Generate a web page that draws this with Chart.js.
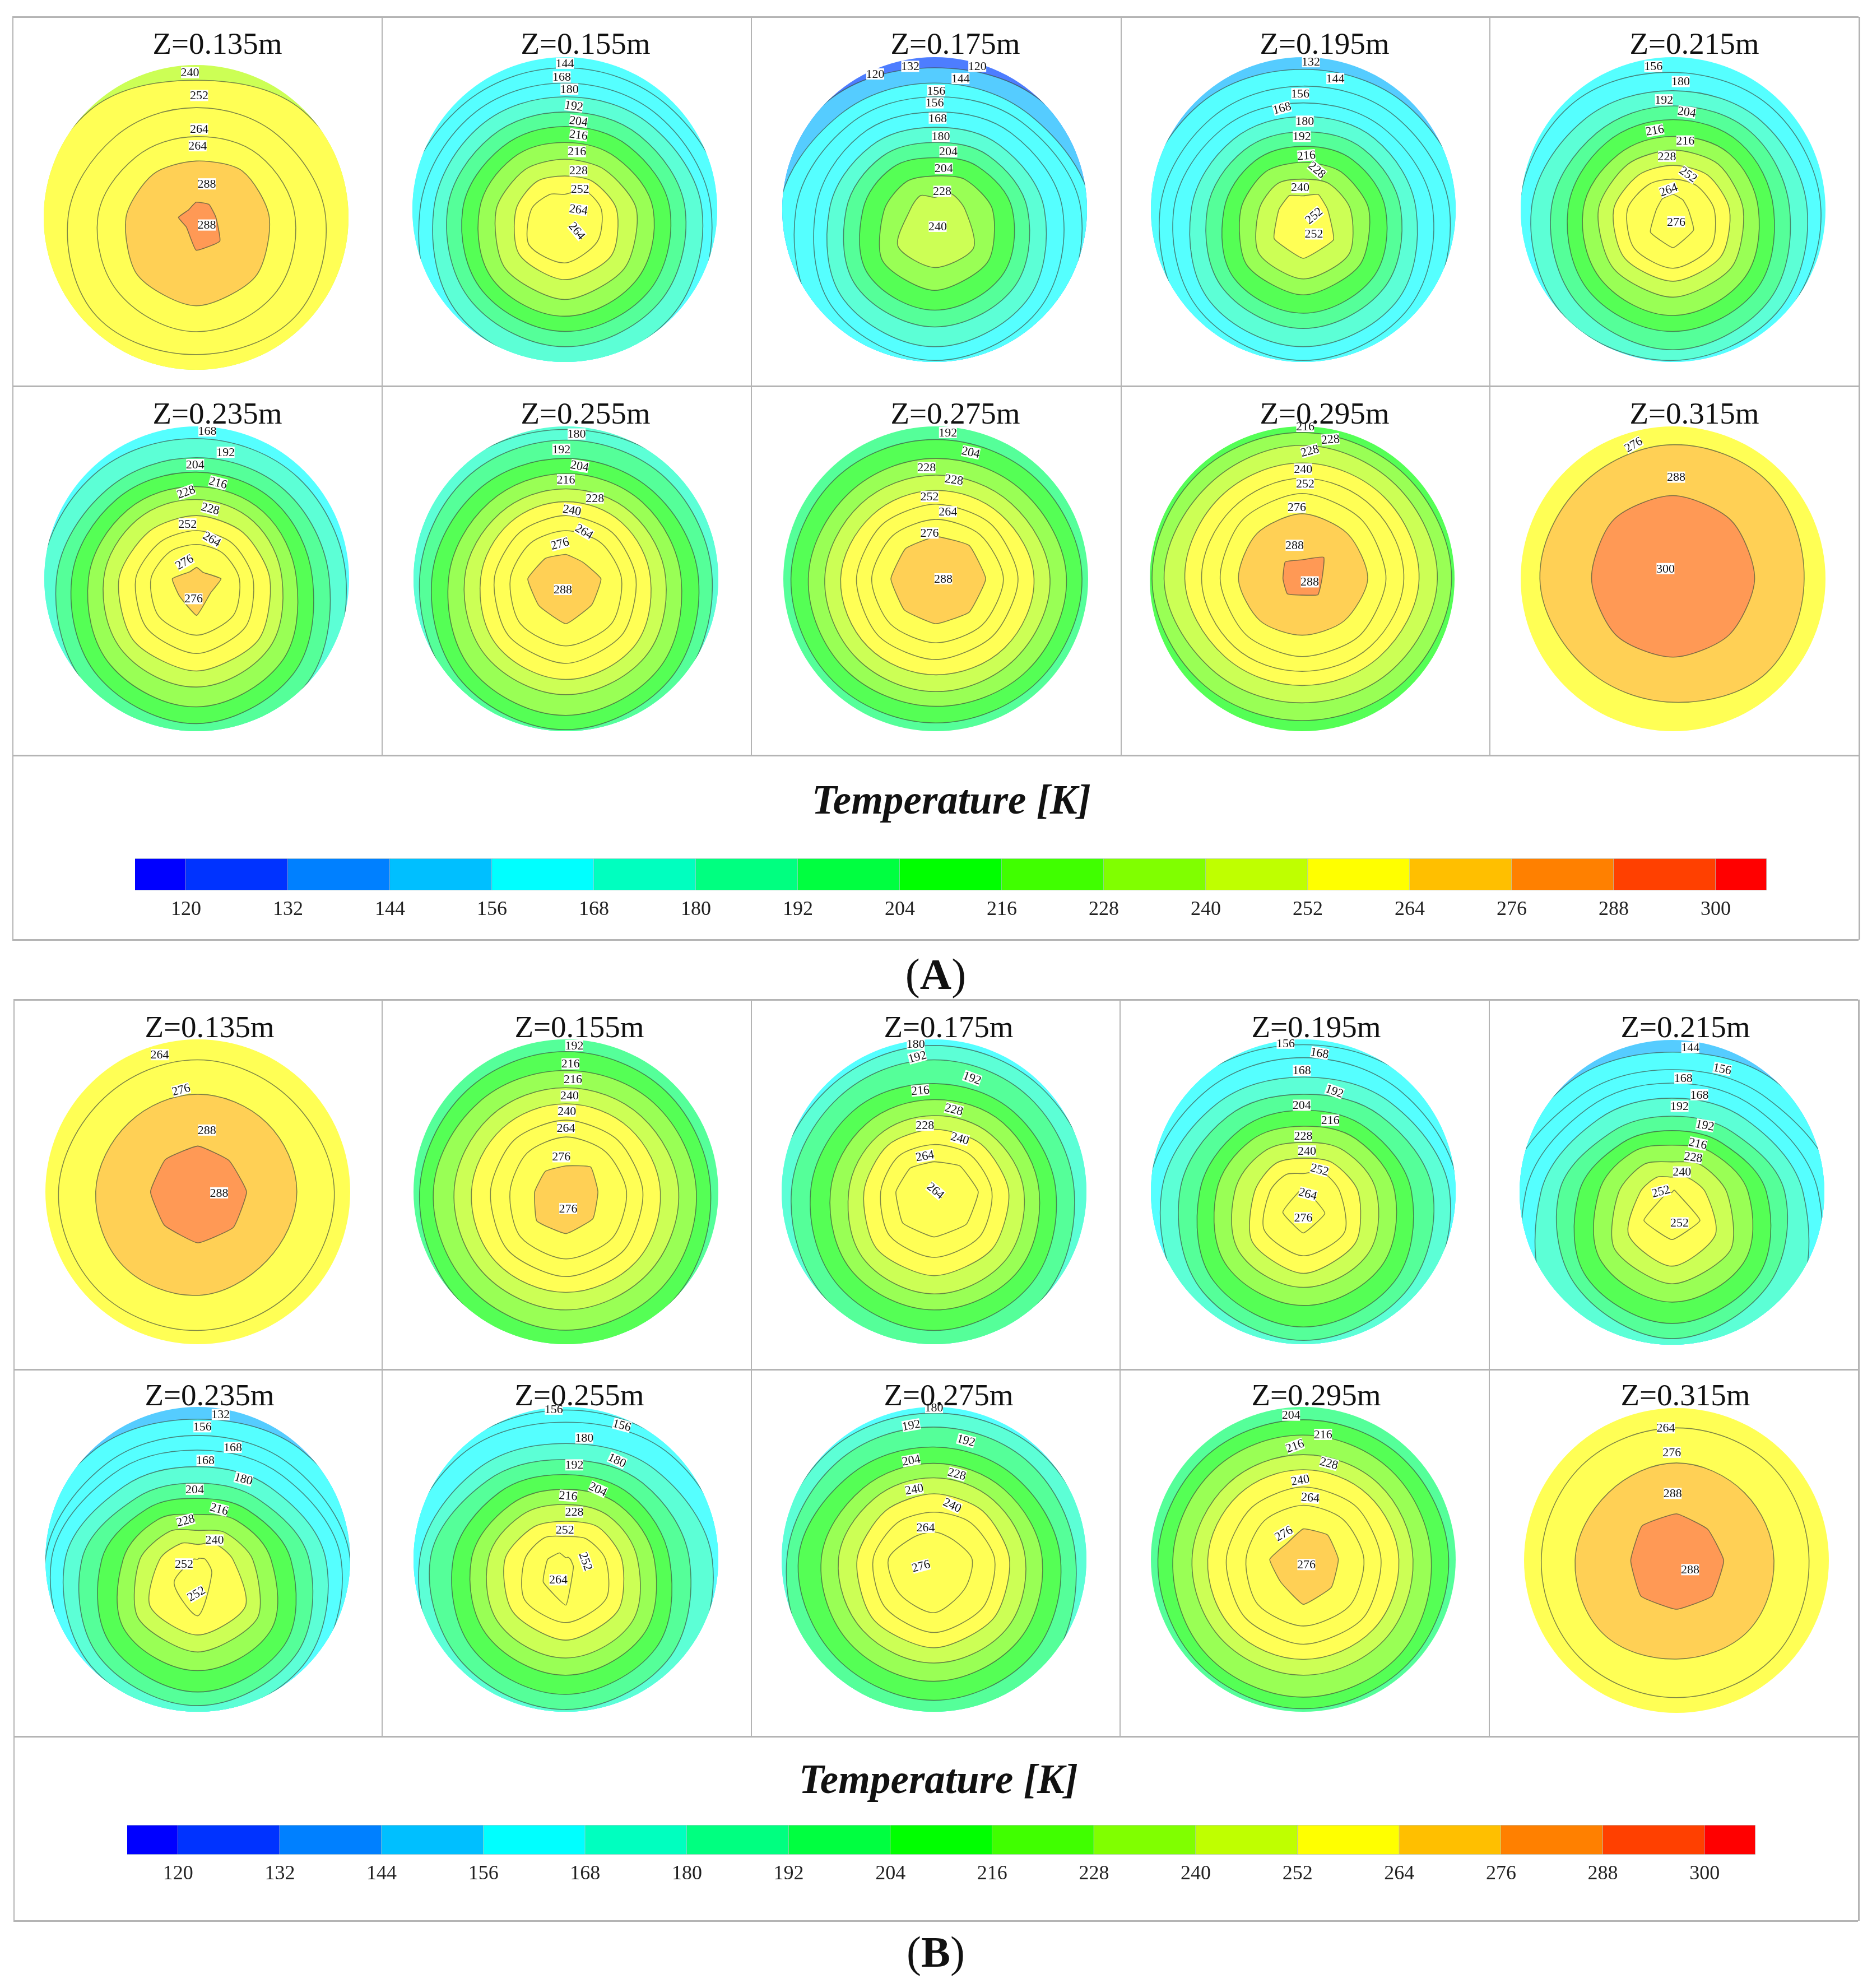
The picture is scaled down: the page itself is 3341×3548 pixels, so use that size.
<!DOCTYPE html>
<html>
<head>
<meta charset="utf-8">
<title>Temperature contours</title>
<script src="https://cdn.jsdelivr.net/npm/chart.js@4/dist/chart.umd.min.js"></script>
<style>
  html, body { margin: 0; padding: 0; background: #fff; }
  #page { position: relative; width: 3341px; height: 3548px; overflow: hidden; font-family: "Liberation Serif", serif; color: #111; }
  #page canvas { position: absolute; }
  .line { position: absolute; background: #b4b4b4; }
  .text { position: absolute; transform: translate(-50%, -50%); white-space: nowrap; z-index: 3; }
  .ztitle { font-size: 55px; }
  .legend { font-size: 73px; font-weight: bold; font-style: italic; }
  .tag { font-size: 78px; }
</style>
</head>
<body>
<div id="page"></div>
<script>
// Section titles
var zLabels = ['Z=0.135m', 'Z=0.155m', 'Z=0.175m', 'Z=0.195m', 'Z=0.215m', 'Z=0.235m', 'Z=0.255m', 'Z=0.275m', 'Z=0.295m', 'Z=0.315m'];

// Colour bar
var barEdges = [114, 120, 132, 144, 156, 168, 180, 192, 204, 216, 228, 240, 252, 264, 276, 288, 300, 306];
var barColors = ['#0000ff', '#0033ff', '#0080ff', '#00bfff', '#00ffff', '#00ffbf', '#00ff80', '#00ff40', '#00ff00', '#40ff00', '#80ff00', '#bfff00', '#ffff00', '#ffbf00', '#ff8000', '#ff4000', '#ff0000'];
var barTicks = [120, 132, 144, 156, 168, 180, 192, 204, 216, 228, 240, 252, 264, 276, 288, 300];

// Colours of the contour bands, by temperature
var bandTemps = [120, 144, 156, 168, 180, 204, 216, 240, 252, 276, 288];
var bandColors = ['#4d7dff', '#55ccff', '#55ffff', '#5cffd6', '#55ff99', '#55ff55', '#99ff55', '#ccff55', '#ffff55', '#ffd055', '#ff9955'];

// Spokes of each contour, clockwise from the top
var spokes = ['N', 'NE', 'E', 'SE', 'S', 'SW', 'W', 'NW'];

// Contours: [band, distance from the centre on each spoke], 100 = section edge
var ringsA135 = [[240,120,120,120,120,120,120,120,120],[252,90,99,106,120,120,120,106,99],[252,72,76,85,92,90,92,84,75],[252,53,58,65,72,75,71,64.5,56],[276,37,43,48,55,58,54,46,40],[288,10,12,13,22,21.5,9,11.6,7]];
var ringsA155 = [[156,120,120,120,120,120,120,120,120],[156,93,96,105,105,105,105,105,96],[156,83,87,96,107,115,109,95,87],[168,74,79,90,99,103,98,86,78],[180,64,69,79,87,90,86,77,68],[204,54.5,59,69,77,80,76,67,58],[216,44,48,58,66,70,66,56,48],[240,33,37,47,55,59,55,45,37],[252,22,26,34,43,46,42,32,26],[252,10,18,24,30,35,33,22,14]];
var ringsA175 = [[120,120,120,120,120,120,120,120,120],[144,93,100,112,120,120,120,112,100],[156,83,88,103,112,118,112,102,88],[156,74,81,96,106,110,105,91,79],[156,64,71,84,95,99,93,78,69],[168,54,60,72,85,90,84,69,59],[180,44,50,61,73,77,72,58,49],[204,34,40,51,62,66,61,47,39],[216,22,28,38,49,53,48,33,26],[240,8,15,20,36,38,34,16,13]];
var ringsA195 = [[144,120,120,120,120,120,120,120,120],[156,92,96.5,106,116,120,116,106,97],[156,81,86,96,105,108,104,94,85],[156,70,75,85,95,99,95,85,75],[168,61,66,74,86,90,86,73.5,65],[180,51,56,64,74,78,74,63,55],[204,41.5,46,54,64,68,64,52,45],[216,31,35,43,52,56,52,41,35],[240,20,24,31,42,45.5,41,29,24],[252,9,14,16,28,32,27,16,13]];
var ringsA215 = [[156,120,120,120,120,120,120,120,120],[156,90,93,97,101,105,108,101,96],[168,78,82,88,96,99,100,93,83],[180,68,72,76.5,87,92,88,80,71],[204,59,62,66,76,80,77,69,62],[216,48,52,56,65,69.5,66,59,51],[240,39,42,46,54,57.5,55,49,42],[252,29,32,37,44,47,45,39,32],[252,20,22,27,35,38.5,36,30,23],[252,10,9,10,19,25,21,11,10]];
var ringsA235 = [[156,120,120,120,120,120,120,120,120],[168,92,94,98,107,112,109,102,96],[180,79.5,82,87,100,105,101,92,83],[204,70,72,76,89,95,91,82,74],[216,60.5,62,65.5,78,84,80,71,64],[240,52,53,56,66,71,68,61,55],[252,41.5,43,48,57,60.5,58,51,44],[252,31.6,33,37,45,49,46,40,34],[252,22.5,24,28,34,37,35,30,25],[276,7.5,6,16,13,24,16,16,6.5]];
var ringsA255 = [[168,120,120,120,120,120,120,120,120],[168,98,102,110,115,120,115,110,102],[180,91,93,96,102,105,102,96,93],[204,79,81,87,95,99,96,88,82],[216,69,71,75.6,85,89.6,86,77,71],[240,59,61,65.5,73,76,73,66.5,61],[252,50.6,52,55.5,63,66,63,56,52],[252,41.5,43,46,52,55.5,53,47,43],[252,31.6,33,36.5,42,44,42,36.5,33],[276,16,15.5,23,24,29.5,25,25,19]];
var ringsA275 = [[180,120,120,120,120,120,120,120,120],[204,91.4,93,96,95,94.6,95,95,93],[216,79,81,85.8,85,83.7,84,83.6,80],[240,68,70,75,74,74,73.5,72.8,69.5],[252,58,60,64.5,64,63,63,62.4,59],[252,49,51,54,53,53,53,52,50],[252,39,41,44.4,43,42,42,42,40],[276,27.7,31,32.8,31,29.5,29,29.4,28]];
var ringsA295 = [[204,120,120,120,120,120,120,120,120],[216,96,96,98,95,93,95,98.5,97],[240,87.6,87,88.7,84,81.4,84,90.6,87],[252,76,76,76.7,72,70,72,77,76],[252,66,66,66.7,63,60.7,63,66,65],[252,56,55,55,53,51,52,53.8,55],[276,42.7,42,43,39,37,39,41.8,42],[288,12.5,20,13,14.7,10.7,13.8,12.6,15.7]];
var ringsA315 = [[252,120,120,120,120,120,120,120,120],[276,88,89,86,87,81,82,87.4,86],[288,54.6,54,53.5,52,51.4,52.6,53.5,55]];
var ringsB135 = [[252,120,120,120,120,120,120,120,120],[252,86.6,86,89.6,90,91,92,91.4,87],[276,64,64,65,64,68,69,67,64],[288,30,29,32,33,33.5,31,31,30]];
var ringsB155 = [[180,120,120,120,120,120,120,120,120],[204,92,93,95,100,105,100,96,93],[216,79.6,82,85.6,89,90.8,89,87,82],[240,68.3,70,74,76,77.5,76,73.4,70],[252,57.7,59,62,65,66,65,62,59],[252,47,48,50.5,54,55.6,54,49.5,48],[252,36,37,39.8,43,44,42,36.7,36],[276,17,23,21,25,27.4,27,20.5,19]];
var ringsB175 = [[156,120,120,120,120,120,120,120,120],[168,96,98,104,112,115,112,104,97],[180,86.6,88,92,100,105,100,93.6,88],[204,71,74,80,88,91,88,81,75],[216,60.5,64,69,76,77.5,75,68,63],[240,50,53,59,65,67,64,56,52],[252,41,44,49,53.5,55,53,46,43],[252,31,34,38,42,43,41,35,33],[252,19.7,24,29,30,29.6,29,25,22]];
var ringsB195 = [[156,120,120,120,120,120,120,120,120],[156,96.5,102,112,120,120,120,112,102],[156,88,92,102,110,115,110,102,92],[168,75.3,82,96,105,110,105,93,81],[180,64,71,85,94,97.5,93,81,70],[204,53.5,59,71,84,88.7,83,68,58],[216,43,49,60,71,74.6,70,57,48],[240,32.4,38,48,59,62.7,58,45,37],[252,22,27,36,48,53.5,47,32,26],[252,12,18,24,38,42,36,22,16],[252,0,1,3,20,27,19,3,1]];
var ringsB215 = [[144,120,120,120,120,120,120,120,120],[156,92,100,110,120,120,120,110,99],[156,80.5,87.7,108,120,120,120,108,87.7],[156,71.7,78,96,118,125,118,96,78],[168,61.8,68,86,110,121,110,86,68],[180,50,56,74,88,96,88,74,56],[204,40.5,46,62,79,86,79,61,46],[216,31,37,50,66,72,65,48,37],[240,20,26,36,54,60,53,35,26],[252,10,14,22,40,48.4,40,21,14],[252,0,2,3,26,31,26,3,0]];
var ringsB235 = [[144,120,120,120,120,120,120,120,120],[156,92,99,110,118,120,118,110,99],[156,81.3,87,100,108,112,108,100,87],[156,71.7,78,94,104,108,105,96,79],[168,60.8,67,84,98,103,99,87,68],[180,50,56,73,90,96,91,76,57],[204,40,46,61,80,87,80,63,47],[216,29.4,36,48,67,73,67,49,37],[240,19,25,36,55,60.8,55,38,26],[252,9.8,15,23,44,49.6,44,25,15],[252,0,1,5,13,37,22,3,0]];
var ringsB255 = [[156,120,120,120,120,120,120,120,120],[156,98,102,110,120,120,120,110,102],[156,90,97,106,115,120,115,106,97],[168,76,83,96,106,110,106,96,83],[180,65.4,71,81,94,98.5,96,89,73],[204,55.6,60,68,83,88.6,85,74,62],[216,46,50,58,71,76,72,62,51],[240,36,40,47,60,64.7,61,51,41],[252,25,30,36.7,48,53,49,40,30],[252,15,19,26,37,41.5,38,27,20],[252,1,2,3,7,30,21,12,6]];
var ringsB275 = [[156,120,120,120,120,120,120,120,120],[168,96,99,104,110,115,110,104,99],[180,86.8,89,93,103,108,105,96.6,90],[204,73.7,76,83,90,92.5,91,89,78],[216,63,65,71,77,80,78,74,66],[240,53.5,55,60,66,68,66,62.7,56],[252,43,45,49.5,55,58,56,50.5,45],[252,31,34,39.8,45,48,45,40,34],[252,18,18,25,28,35,32,30,20]];
var ringsB295 = [[180,120,120,120,120,120,120,120,120],[204,91.6,93,95.4,97,98,97,95.4,93],[216,81.5,82,84,89,90.4,89,85.6,83],[240,68.7,70,72,75,76,75,73,70],[252,58.8,60,62.7,65,65.6,65,62.7,60],[252,47.5,49,51,55,55.7,54,50.5,48],[252,35.5,37,39.8,43,43.7,42,37.6,36],[276,20,22.6,23,26,29.5,21,22,15]];
var ringsB315 = [[252,120,120,120,120,120,120,120,120],[252,87,88,87,90,90,90,88.7,88],[276,64,63,64,66,64.7,68,66.5,63],[288,30.6,29,31,33,32,33,30,32]];

// Contour labels: [text, east, north, tilt in degrees], same units as the rings
var labelsA135 = [['240',-4,95,0],['252',2,80,0],['264',2,58,0],['264',1,47,0],['288',7,22,0],['288',7,-5,0]];
var labelsA155 = [['144',0,96,0],['168',-2,87,0],['180',3,79,0],['192',6,68,8],['204',9,58,8],['216',9,49,8],['216',8,38,0],['228',9,25.5,0],['252',10,13.5,0],['264',9,0,8],['264',8,-14,50]];
var labelsA175 = [['120',-39,89,0],['132',-16,94,0],['120',28,94,0],['144',17,86,0],['156',1,78,0],['156',0,70,0],['168',2,60,0],['180',4,48,0],['204',9,38,0],['204',6,27,0],['228',5,12,0],['240',2,-11,0]];
var labelsA195 = [['132',5,97,0],['144',21,86,0],['156',-2,76,0],['168',-14,66.5,-15],['180',1,58,0],['192',-1,48,0],['216',2,35.5,-5],['228',9,26,40],['240',-2,14.5,0],['252',7,-4,-40],['252',7,-16,0]];
var labelsA215 = [['156',-13,94,0],['180',5,84,0],['192',-6,72,0],['204',9,64,8],['216',-12,52,-10],['216',8,45,0],['228',-4,35,0],['252',10,23,35],['264',-3,13,-20],['276',2,-8,0]];
var labelsA235 = [['168',7,97,0],['192',19,83,0],['204',-1,75,0],['216',14,63,15],['228',-7,57,-20],['228',9,46,15],['252',-6,36,0],['264',10,26,30],['276',-8,11,-30],['276',-2,-13,0]];
var labelsA255 = [['180',7,95,0],['192',-3,85,0],['204',9,74,10],['216',0,65,0],['228',19,53,0],['240',4,45,10],['264',12,31,30],['276',-4,23,-15],['288',-2,-7,0]];
var labelsA275 = [['192',8,96,0],['204',23,83,12],['228',-6,73,0],['228',12,65,8],['252',-4,54,0],['264',8,44,0],['276',-4,30,0],['288',5,0,0]];
var labelsA295 = [['216',2,100,0],['228',18.5,91.5,-5],['228',5,84,-15],['240',0.6,72,0],['252',2,62.5,0],['276',-3.5,47,0],['288',-5,22,0],['288',5,-2,0]];
var labelsA315 = [['276',-26,88,-30],['288',2,66.7,0],['300',-5,6.7,0]];
var labelsB135 = [['264',-25,90,0],['276',-11,67,-15],['288',6,40.5,0],['288',14,-0.7,0]];
var labelsB155 = [['192',5.5,96,0],['216',3,84,0],['216',4.6,74,0],['240',2.4,63,0],['240',0.6,53,0],['264',0,42,0],['276',-3,23,0],['276',1.5,-11,0]];
var labelsB175 = [['180',-12,97,0],['192',-11,88.5,-15],['192',25,74.6,20],['216',-9,66.5,-5],['228',13,54,15],['228',-6,43.7,0],['240',17,35,15],['264',-6,23.5,-10],['264',1,0.7,40]];
var labelsB195 = [['156',-11.6,97.5,0],['168',10.7,91,10],['168',-1,79.6,0],['192',20.5,66,20],['204',-1,56.8,0],['216',17.7,47,0],['228',0,36.6,0],['240',2.4,26.8,0],['252',10.7,14.5,15],['264',3,-1.4,15],['276',0,-17,0]];
var labelsB215 = [['144',12,95,0],['156',33,81,12],['168',7.4,75,0],['168',18,64,0],['192',5,56.5,0],['192',21.7,44,10],['216',17,32,12],['228',14,23,8],['240',6.5,13.4,0],['252',-7.3,0.6,-15],['252',5,-20,0]];
var labelsB235 = [['132',15,95,0],['156',3,87,0],['168',23,73.5,0],['168',5,65,0],['180',30,52.8,15],['204',-2,46,0],['216',14,33,15],['228',-8,25.5,-15],['240',11,12.7,0],['252',-9,-3,0],['252',-1,-22.6,-30]];
var labelsB255 = [['156',-8,98.6,0],['156',36.7,88,15],['180',12,79.6,0],['180',33.6,65,25],['192',5.5,62,0],['204',21,46,25],['216',1.5,41.7,5],['228',5.5,31,0],['252',-0.6,19.4,0],['252',13,-1.4,70],['264',-5,-13.4,0]];
var labelsB275 = [['180',0,99.6,0],['192',-15,88,-10],['192',21,78,15],['204',-15,65,-10],['228',15,56,15],['240',-13,46,-10],['240',12,35.5,25],['264',-5.5,21,0],['276',-8.6,-4.4,-15]];
var labelsB295 = [['204',-8,94.6,0],['216',13,82,0],['216',-5.5,74.4,-20],['228',16.8,63,15],['240',-2,52,-10],['264',4.6,40.5,5],['276',-12.8,17,-30],['276',2,-3.4,0]];
var labelsB315 = [['264',-7,87,0],['276',-3,71,0],['288',-2.5,44,0],['288',9,-6,0]];

var ringsA = [ringsA135, ringsA155, ringsA175, ringsA195, ringsA215, ringsA235, ringsA255, ringsA275, ringsA295, ringsA315];
var labelsA = [labelsA135, labelsA155, labelsA175, labelsA195, labelsA215, labelsA235, labelsA255, labelsA275, labelsA295, labelsA315];
var ringsB = [ringsB135, ringsB155, ringsB175, ringsB195, ringsB215, ringsB235, ringsB255, ringsB275, ringsB295, ringsB315];
var labelsB = [labelsB135, labelsB155, labelsB175, labelsB195, labelsB215, labelsB235, labelsB255, labelsB275, labelsB295, labelsB315];

// Layout of the figure on the page
var page = document.getElementById('page');
var PANEL_SIZE = 600;
var PANEL_PAD = 28;

// Clip contours to the round section and put the labels on top
var sectionPlugin = {
    id: 'section',
    beforeDatasetsDraw: function(chart) {
        var r = chart.scales.r;
        var ctx = chart.ctx;
        ctx.save();
        ctx.beginPath();
        ctx.arc(r.xCenter, r.yCenter, r.getDistanceFromCenterForValue(100), 0, Math.PI * 2);
        ctx.clip();
    },
    afterDatasetsDraw: function(chart, args, options) {
        var r = chart.scales.r;
        var ctx = chart.ctx;
        ctx.restore();
        options.items.forEach(function(item) {
            ctx.save();
            ctx.translate(r.xCenter + r.getDistanceFromCenterForValue(item[1]), r.yCenter - r.getDistanceFromCenterForValue(item[2]));
            ctx.rotate(item[3] * Math.PI / 180);
            ctx.fillStyle = '#fff';
            ctx.fillRect(-16, -10, 32, 20);
            ctx.fillStyle = '#111';
            ctx.font = '22px "Liberation Serif"';
            ctx.textAlign = 'center';
            ctx.textBaseline = 'middle';
            ctx.fillText(item[0], 0, 1);
            ctx.restore();
        });
    }
};

function addCanvas(x, y, w, h) {
    var canvas = document.createElement('canvas');
    canvas.width = w;
    canvas.height = h;
    canvas.style.left = x + 'px';
    canvas.style.top = y + 'px';
    page.appendChild(canvas);
    return canvas;
}

function addText(cls, html, x, y) {
    var el = document.createElement('div');
    el.className = 'text ' + cls;
    el.innerHTML = html;
    el.style.left = x + 'px';
    el.style.top = y + 'px';
    page.appendChild(el);
}

function addLine(x, y, w, h) {
    var el = document.createElement('div');
    el.className = 'line';
    el.style.left = x + 'px';
    el.style.top = y + 'px';
    el.style.width = w + 'px';
    el.style.height = h + 'px';
    page.appendChild(el);
}

// Small offset contours get a straighter outline
function ringTension(values) {
    var most = Math.max.apply(null, values);
    if (most < 35) return 0.12;
    return most < 62 ? 0.28 : 0.36;
}

function drawPanel(rings, labels, cx, cy) {
    var canvas = addCanvas(cx - PANEL_SIZE / 2, cy - PANEL_SIZE / 2, PANEL_SIZE, PANEL_SIZE);
    // datasets paint from last to first, so the outer band goes last
    var datasets = rings.slice().reverse().map(function(ring) {
        var values = ring.slice(1);
        return {
            data: values,
            backgroundColor: bandColors[bandTemps.indexOf(ring[0])],
            borderColor: 'rgba(60,70,60,0.65)',
            borderWidth: 1.6,
            fill: true,
            pointRadius: 0,
            tension: ringTension(values)
        };
    });
    return new Chart(canvas.getContext('2d'), {
        type: 'radar',
        data: { labels: spokes, datasets: datasets },
        options: {
            responsive: false,
            animation: false,
            layout: { padding: PANEL_PAD },
            elements: { line: { capBezierPoints: false } },
            plugins: {
                legend: { display: false },
                tooltip: { enabled: false },
                section: { items: labels }
            },
            scales: {
                r: { display: false, min: 0, max: 100, pointLabels: { display: false } }
            }
        },
        plugins: [sectionPlugin]
    });
}

function drawColorBar(x0, x1, y0, y1) {
    var pad = 40;
    var canvas = addCanvas(x0 - pad, y0, x1 - x0 + pad * 2, y1 - y0 + 80);
    var datasets = barColors.map(function(color, i) {
        return {
            data: [[barEdges[i], barEdges[i + 1]]],
            backgroundColor: color,
            borderColor: 'rgba(0,70,60,0.3)',
            borderWidth: 1,
            barPercentage: 1,
            categoryPercentage: 1,
            grouped: false
        };
    });
    return new Chart(canvas.getContext('2d'), {
        type: 'bar',
        data: { labels: ['K'], datasets: datasets },
        options: {
            indexAxis: 'y',
            responsive: false,
            animation: false,
            layout: { padding: { left: pad, right: pad, top: 0, bottom: 0 } },
            plugins: { legend: { display: false }, tooltip: { enabled: false } },
            scales: {
                y: { display: false },
                x: {
                    type: 'linear',
                    min: barEdges[0],
                    max: barEdges[barEdges.length - 1],
                    grid: { display: false, drawTicks: false },
                    border: { display: false },
                    afterBuildTicks: function(axis) {
                        axis.ticks = barTicks.map(function(v) { return { value: v }; });
                    },
                    afterFit: function(axis) { axis.height = 80; },
                    ticks: {
                        autoSkip: false,
                        maxRotation: 0,
                        padding: 13,
                        color: '#222',
                        font: { family: 'Liberation Serif', size: 36 }
                    }
                }
            }
        }
    });
}

function drawFrame(x0, x1, yTop, yMid, yLow, yBottom, columns) {
    [yTop, yMid, yLow, yBottom].forEach(function(y) { addLine(x0, y - 1, x1 - x0, 3); });
    addLine(x0, yTop, 2, yBottom - yTop);
    addLine(x1, yTop, 3, yBottom - yTop);
    columns.forEach(function(x) { addLine(x, yTop, 2, yLow - yTop); });
}

function drawGroup(rings, labels, diskX, diskY, titleX, titleY) {
    rings.forEach(function(ring, i) {
        drawPanel(ring, labels[i], diskX[i], diskY[i]);
        addText('ztitle', zLabels[i], titleX[i], titleY[i]);
    });
}

document.addEventListener('DOMContentLoaded', function() {
    // (A)
    drawFrame(22, 3317, 30, 689, 1348, 1677, [681, 1340, 2000, 2658]);
    drawGroup(ringsA, labelsA,
        [350, 1008, 1668, 2326, 2986, 351, 1010, 1670, 2324, 2986],
        [388, 374, 374, 374, 374, 1033, 1033, 1033, 1033, 1033],
        [388, 1045, 1705, 2364, 3024, 388, 1045, 1705, 2364, 3024],
        [77, 77, 77, 77, 77, 737, 737, 737, 737, 737]);
    addText('legend', 'Temperature [K]', 1698, 1428);
    drawColorBar(241, 3153, 1532, 1589);
    addText('tag', '(<b>A</b>)', 1670, 1739);

    // (B)
    drawFrame(24, 3316, 1784, 2444, 3099, 3428, [681, 1340, 1998, 2657]);
    drawGroup(ringsB, labelsB,
        [353, 1010, 1667, 2326, 2984, 353, 1010, 1667, 2326, 2992],
        [2127, 2127, 2127, 2127, 2128, 2783, 2783, 2783, 2783, 2785],
        [374, 1034, 1693, 2349, 3008, 374, 1034, 1693, 2349, 3008],
        [1832, 1832, 1832, 1832, 1832, 2489, 2489, 2489, 2489, 2489]);
    addText('legend', 'Temperature [K]', 1675, 3176);
    drawColorBar(227, 3133, 3257, 3310);
    addText('tag', '(<b>B</b>)', 1670, 3484);
});
</script>
</body>
</html>
